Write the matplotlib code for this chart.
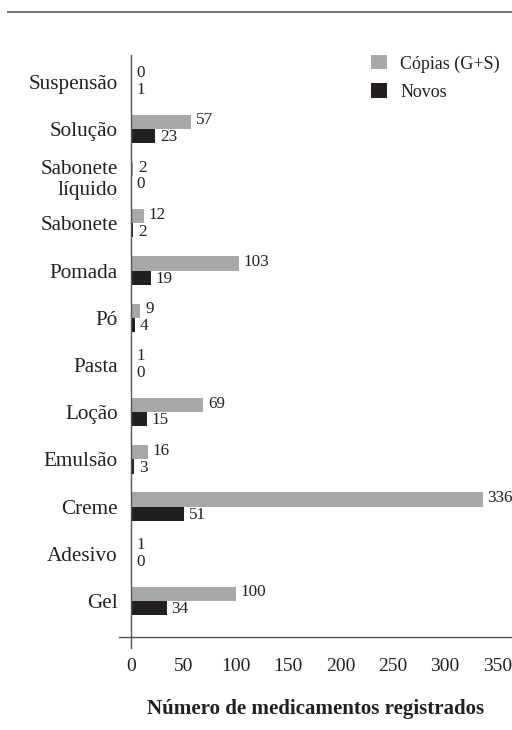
import matplotlib
matplotlib.use("Agg")
import matplotlib.pyplot as plt
from matplotlib.patches import Patch
from matplotlib.lines import Line2D
import numpy as np

categories = ['Suspensão', 'Solução', 'Sabonete\nlíquido', 'Sabonete', 'Pomada', 'Pó',
              'Pasta', 'Loção', 'Emulsão', 'Creme', 'Adesivo', 'Gel']
copias = [0, 57, 2, 12, 103, 9, 1, 69, 16, 336, 1, 100]
novos = [1, 23, 0, 2, 19, 4, 0, 15, 3, 51, 0, 34]
xticks = [0, 50, 100, 150, 200, 250, 300, 350]
series_names = ['Cópias (G+S)', 'Novos']

GRAY = '#a7a8aa'
BLACK = '#231f20'
TXT = '#231f20'

plt.rcParams['font.family'] = ['Liberation Serif', 'DejaVu Serif']

fig = plt.figure(figsize=(5.12, 7.30), dpi=100)
ax = fig.add_axes([119/512, 92.7/730, 393/512, 582.3/730])

n = len(categories)
y = np.arange(n)[::-1]
h = 0.30
ax.barh(y + h/2, copias, height=h, color=GRAY)
ax.barh(y - h/2, novos, height=h, color=BLACK)

for yi, c, nv in zip(y, copias, novos):
    ax.annotate(str(c), (c, yi + h/2), xytext=(3.5, 1.0), textcoords='offset points',
                va='center', ha='left', fontsize=12.3, color=TXT)
    ax.annotate(str(nv), (nv, yi - h/2), xytext=(3.5, -0.8), textcoords='offset points',
                va='center', ha='left', fontsize=12.3, color=TXT)

ax.set_xlim(-11.5, 364)
ax.set_ylim(-0.77, 11.566)
ax.set_yticks(y)
ax.set_yticklabels(categories, fontsize=15.2, color=TXT)
ax.set_xticks(xticks)
ax.set_xticklabels([str(t) for t in xticks], fontsize=14, color=TXT)
ax.tick_params(axis='both', length=0)
ax.tick_params(axis='y', pad=1)
ax.tick_params(axis='x', pad=15)

for s in ['left', 'top', 'right']:
    ax.spines[s].set_visible(False)
ax.spines['bottom'].set_color('#555555')
ax.spines['bottom'].set_linewidth(1.0)
ax.axvline(0, ymin=-10.7/582.3, ymax=1, clip_on=False, color='#555555', lw=1.0)

ax.set_xlabel('Número de medicamentos registrados', fontsize=15.1, fontweight='bold',
              color=TXT, labelpad=17)

handles = [Patch(facecolor=GRAY, edgecolor='none'), Patch(facecolor=BLACK, edgecolor='none')]
ax.legend(handles, series_names, loc='upper right', bbox_to_anchor=(0.969, 1.0),
          frameon=False, fontsize=13, handlelength=0.85, handleheight=0.85,
          handletextpad=0.75, labelspacing=0.6, borderpad=0, borderaxespad=0,
          labelcolor=TXT)

fig.add_artist(Line2D([8/512, 1], [1 - 12/730, 1 - 12/730], transform=fig.transFigure,
                      color='#6d6d6d', lw=1.4))

fig.savefig('out.png', dpi=100, facecolor='white')
